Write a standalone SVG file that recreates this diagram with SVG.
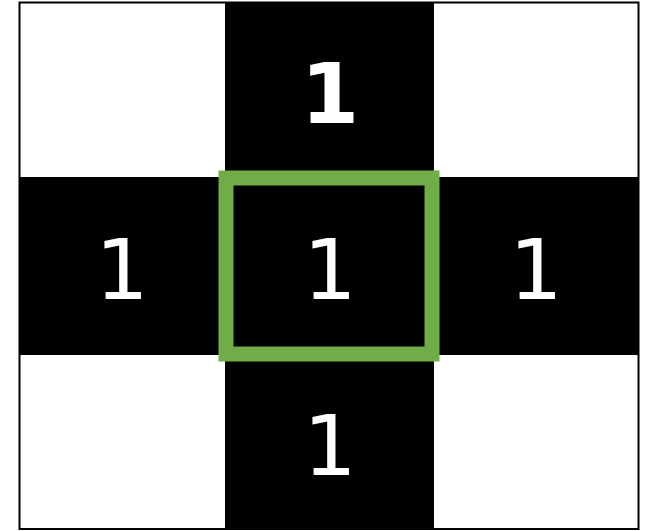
<svg xmlns="http://www.w3.org/2000/svg" width="651" height="531" viewBox="0 0 651 531">
<style>
.cell{fill:#000}
.num{fill:#fff;font-family:"DejaVu Sans",sans-serif;font-size:84px;text-anchor:middle}
.b{font-weight:bold}
</style>
<rect width="651" height="531" fill="#fff"/>
<g id="cells">
<rect class="cell" x="225" y="2" width="209" height="527"/>
<rect class="cell" x="19" y="177" width="620" height="178"/>
</g>
<g id="top"><text class="num b" x="330" y="123">1</text></g>
<g id="left"><text class="num" x="122" y="299">1</text></g>
<g id="center"><text class="num" x="330" y="299">1</text></g>
<g id="right"><text class="num" x="536" y="299">1</text></g>
<g id="bottom"><text class="num" x="330" y="475">1</text></g>
<g id="highlight"><rect x="226" y="178" width="206" height="176" fill="none" stroke="#70ad47" stroke-width="15"/></g>
<rect x="19.5" y="2.5" width="619" height="526.5" fill="none" stroke="#000" stroke-width="2"/>
</svg>
